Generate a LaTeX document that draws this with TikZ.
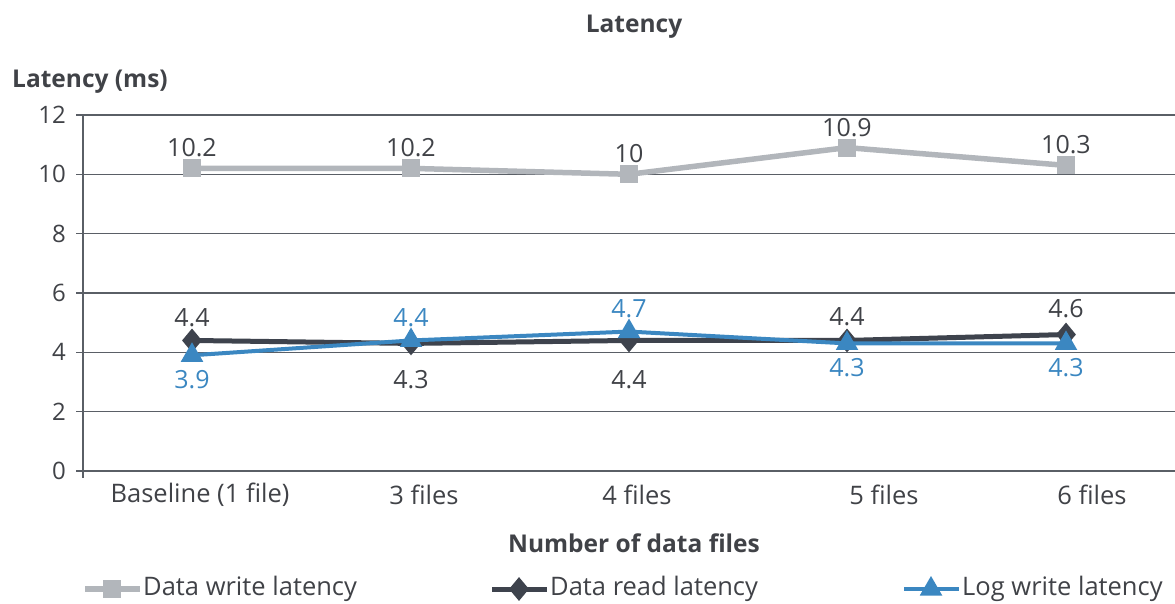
\documentclass[tikz,border=0pt]{standalone}
\usepackage{fontspec}
\setmainfont{Open Sans}
\usetikzlibrary{shapes.geometric}
\definecolor{gridc}{HTML}{5A5F66}
\definecolor{txtc}{HTML}{404247}
\definecolor{wrc}{HTML}{B2B6BB}
\definecolor{rdc}{HTML}{3E434D}
\definecolor{lgc}{HTML}{3B87C1}
\tikzset{
  grid line/.style={draw=gridc, line width=1.6pt},
  ticklab/.style={font=\fontsize{24}{28}\selectfont, text=txtc, inner sep=0pt},
  catlab/.style={font=\fontsize{25.5}{29}\selectfont, text=txtc, inner sep=0pt},
  datalab/.style={font=\fontsize{25}{28}\selectfont, inner sep=0pt},
  axtitle/.style={font=\bfseries\fontsize{24.5}{28}\selectfont, text=txtc, inner sep=0pt},
  wrmark/.style={rectangle, fill=wrc, minimum size=18pt, inner sep=0pt},
  rdmark/.style={diamond, fill=rdc, minimum width=20pt, minimum height=24pt, inner sep=0pt},
  lgmark/.style={regular polygon, regular polygon sides=3, fill=lgc, minimum size=26pt, inner sep=0pt},
  wrline/.style={draw=wrc, line width=5.5pt},
  rdline/.style={draw=rdc, line width=5pt},
  lgline/.style={draw=lgc, line width=4pt},
}
\begin{document}
\begin{tikzpicture}[x=1pt,y=-1pt]
\useasboundingbox (0,0) rectangle (1175,603);

% titles
\node[axtitle] (title) at (634,27) {Latency};
\node[axtitle, anchor=west] (ylab) at (12,82) {Latency (ms)};
\node[axtitle] (xlab) at (634,543) {Number of data files};

% horizontal grid, ticks and y labels (471 px = 0 ms, 29.67 px per ms)
\foreach \v in {0,2,...,12} {
  \pgfmathsetmacro{\yy}{471-29.67*\v}
  \draw[grid line] (76,\yy) -- (1175,\yy);
  \node[ticklab, anchor=east] (y\v) at (66,\yy) {\v};
}
\draw[grid line] (83,115) -- (83,478);

% category labels
\foreach \x/\t [count=\i] in {200/Baseline (1 file),424/3 files,637/4 files,884/5 files,1092/6 files}
  \node[catlab] (c\i) at (\x,495) {\t};

% data points
\foreach \x/\w/\r/\l [count=\i] in {192/10.2/4.4/3.9, 411/10.2/4.3/4.4, 629/10/4.4/4.7, 847/10.9/4.4/4.3, 1066/10.3/4.6/4.3} {
  \coordinate (w\i) at (\x,{471-29.67*\w});
  \coordinate (r\i) at (\x,{471-29.67*\r});
  \coordinate (l\i) at (\x,{471-29.67*\l});
}

% data write latency
\draw[wrline] (w1) -- (w2) -- (w3) -- (w4) -- (w5);
\foreach \i in {1,...,5} \node[wrmark] (wm\i) at (w\i) {};
\foreach \i/\v in {1/10.2,2/10.2,3/10,4/10.9,5/10.3}
  \node[datalab, text=txtc, above=11pt] (wl\i) at (w\i) {\v};

% data read latency
\draw[rdline] (r1) -- (r2) -- (r3) -- (r4) -- (r5);
\foreach \i in {1,...,5} \node[rdmark] (rm\i) at (r\i) {};

% log write latency
\draw[lgline] (l1) -- (l2) -- (l3) -- (l4) -- (l5);
\foreach \i in {1,...,5} \node[lgmark] (lm\i) at (l\i) {};

% read labels
\node[datalab, text=txtc] (rl1) at (192,318) {4.4};
\node[datalab, text=txtc] (rl2) at (411,380) {4.3};
\node[datalab, text=txtc] (rl3) at (629,380) {4.4};
\node[datalab, text=txtc] (rl4) at (847,317) {4.4};
\node[datalab, text=txtc] (rl5) at (1066,309) {4.6};
% log labels
\node[datalab, text=lgc] (ll1) at (192,380) {3.9};
\node[datalab, text=lgc] (ll2) at (411,318) {4.4};
\node[datalab, text=lgc] (ll3) at (629,309) {4.7};
\node[datalab, text=lgc] (ll4) at (847,368) {4.3};
\node[datalab, text=lgc] (ll5) at (1066,368) {4.3};

% legend
\coordinate (a1) at (85,589); \coordinate (a2) at (140,589);
\draw[wrline] (a1) -- (a2);
\node[wrmark] (k1) at (112,589) {};
\node[catlab, anchor=west] (t1) at (143,589) {Data write latency};
\coordinate (b1) at (492,589); \coordinate (b2) at (547,589);
\draw[rdline] (b1) -- (b2);
\node[rdmark] (k2) at (519,589) {};
\node[catlab, anchor=west] (t2) at (550,589) {Data read latency};
\coordinate (d1) at (904,589); \coordinate (d2) at (959,589);
\draw[lgline] (d1) -- (d2);
\node[lgmark] (k3) at (931,589) {};
\node[catlab, anchor=west] (t3) at (962,589) {Log write latency};
\end{tikzpicture}
\end{document}
